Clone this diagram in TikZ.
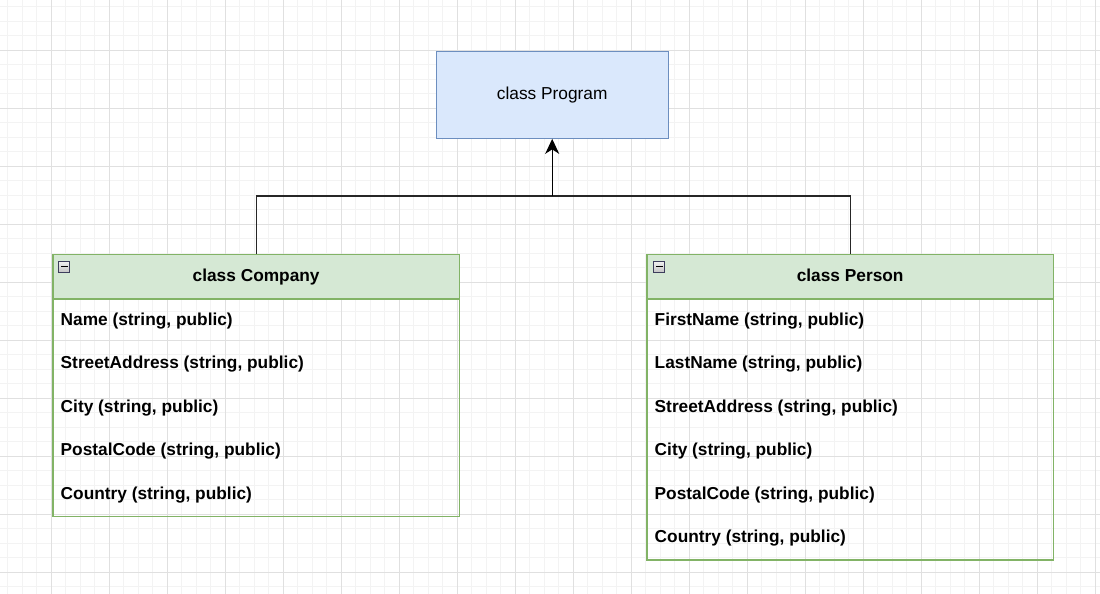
\documentclass[tikz,border=0pt]{standalone}
\usepackage{fontspec}
\setmainfont{Liberation Sans}
\usetikzlibrary{arrows.meta,positioning}
\definecolor{ProgFill}{HTML}{DAE8FC}
\definecolor{ProgLine}{HTML}{6C8EBF}
\definecolor{ClassFill}{HTML}{D5E8D4}
\definecolor{ClassLine}{HTML}{82B366}
\definecolor{MinorGrid}{HTML}{F3F3F3}
\definecolor{MajorGrid}{HTML}{E0E0E0}

\begin{document}
\begin{tikzpicture}[x=1pt,y=-1pt,
  font=\fontsize{17.3}{20}\selectfont,
  prog/.style={draw=ProgLine,fill=ProgFill,line width=1.3pt,minimum width=232pt,minimum height=87pt,inner sep=0pt},
  header/.style={draw=ClassLine,fill=ClassFill,line width=1.3pt,minimum width=406.4pt,minimum height=43.6pt,inner sep=0pt,text height=12.6pt,text depth=3.4pt,anchor=north west,font=\fontsize{17.3}{20}\selectfont\bfseries},
  body/.style={draw=ClassLine,line width=1.3pt,minimum width=406.4pt,inner sep=0pt,anchor=north west},
  row/.style={anchor=west,inner sep=0pt,font=\fontsize{17.3}{20}\selectfont\bfseries},
  icon/.style={draw=gray!80!blue!60!black,line width=0.8pt,top color=gray!10,bottom color=gray!45,minimum size=11pt,inner sep=0pt,
    path picture={\draw[line width=1.6pt,black] ([xshift=2.2pt]path picture bounding box.west) -- ([xshift=-2.2pt]path picture bounding box.east);}},
  link/.style={draw=black!85,line width=1.3pt}]

\useasboundingbox[fill=white] (0,0) rectangle (1100,594);
\begin{scope}
\clip (0,0) rectangle (1100,594);
\draw[MinorGrid,line width=0.8pt,step=14.5pt,shift={(7.8,6.5)}] (-60,650) grid (1150,-60);
\draw[MajorGrid,line width=0.9pt,step=58pt,shift={(51.3,50)}] (-60,650) grid (1150,-60);
\end{scope}

\node[prog] (program) at (552.2,94.7) {class Program};

\node[header] (company) at (52.3,254) {class Company};
\node[body,minimum height=217pt] (companybody) at (company.south west) {};
\node[icon] (companyicon) at (64.3,266.5) {};
\node[row] (cname) at (60.5,321) {Name (string, public)};
\node[row] (cstreet) at (60.5,364.4) {StreetAddress (string, public)};
\node[row] (ccity) at (60.5,407.8) {City (string, public)};
\node[row] (cpostal) at (60.5,451.2) {PostalCode (string, public)};
\node[row] (ccountry) at (60.5,494.6) {Country (string, public)};

\node[header] (person) at (646.3,254) {class Person};
\node[body,minimum height=260.4pt] (personbody) at (person.south west) {};
\node[icon] (personicon) at (659.3,266.5) {};
\node[row] (pfirst) at (654.5,321) {FirstName (string, public)};
\node[row] (plast) at (654.5,364.4) {LastName (string, public)};
\node[row] (pstreet) at (654.5,407.8) {StreetAddress (string, public)};
\node[row] (pcity) at (654.5,451.2) {City (string, public)};
\node[row] (ppostal) at (654.5,494.6) {PostalCode (string, public)};
\node[row] (pcountry) at (654.5,538) {Country (string, public)};

\coordinate (joint) at (552.2,196);
\draw[link] (company.north) |- (joint) -| (person.north);
\draw[link,draw=black,-{Stealth[length=15pt,width=14pt,inset=4.5pt]}] (joint) -- (program.south);

\end{tikzpicture}
\end{document}
